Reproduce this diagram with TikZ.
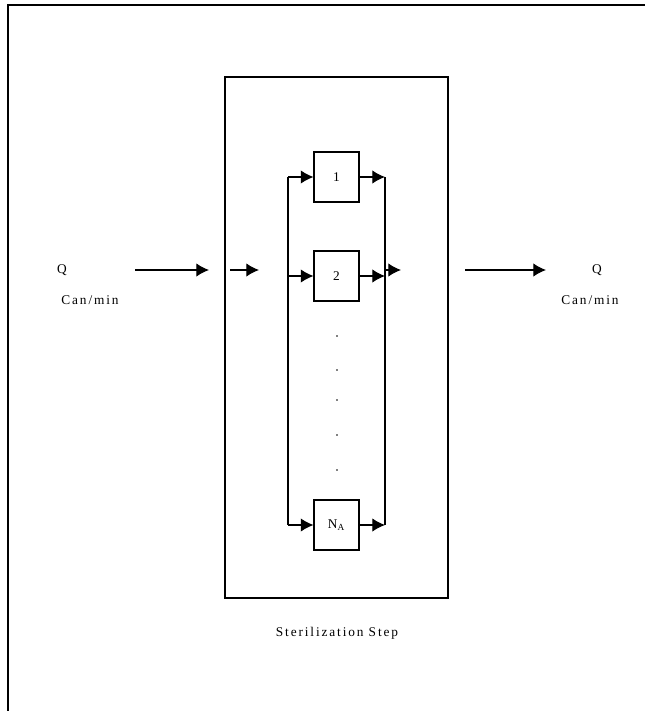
\documentclass[tikz,border=0pt]{standalone}
\usepackage{fontspec}
\setmainfont{Liberation Serif}
\usetikzlibrary{arrows.meta, math}

\tikzset{
  unit/.style={draw, line width=0.8pt, minimum width=33.75pt, minimum height=37.5pt, inner sep=0pt, font=\fontsize{10}{12}\selectfont},
  flow/.style={line width=0.8pt, -{Latex[length=9.5pt,width=10pt]}},
  bus/.style={line width=0.8pt},
  lbl/.style={font=\addfontfeatures{LetterSpace=14}\fontsize{10}{12}\selectfont, inner sep=0pt}
}

\begin{document}
\begin{tikzpicture}[x=0.75pt, y=-0.75pt]
\tikzmath{
\xl=288; \xr=385; \ym=270;
}
\useasboundingbox (0,0) rectangle (645,711);

% frame
\draw[line width=1.5pt] (8,711) -- (8,5) -- (645,5);

% sterilization step
\node[draw, line width=0.9pt, minimum width=167.25pt, minimum height=390.75pt, inner sep=0pt] (step) at (336.5,337.5) {};
\node[lbl] (steplbl) at (337,633) {Sterilization Step};

% parallel units
\node[unit] (u1) at (336.5,177) {1};
\node[unit] (u2) at (336.5,276) {2};
\node[unit] (uN) at (336.5,525) {N\textsubscript{A}};

\foreach \y in {336,370,400,435,470}
  \fill (337,\y) circle (0.6pt);

\coordinate (bl1) at (\xl,177);
\coordinate (bl2) at (\xl,276);
\coordinate (blN) at (\xl,525);
\coordinate (br1) at (\xr,177);
\coordinate (br2) at (\xr,276);
\coordinate (brN) at (\xr,525);

\draw[bus] (bl1) -- (blN);
\draw[bus] (br1) -- (brN);
\draw[flow] (bl1) -- (u1.west);
\draw[flow] (bl2) -- (u2.west);
\draw[flow] (blN) -- (uN.west);
\draw[flow] (u1.east) -- (br1);
\draw[flow] (u2.east) -- (br2);
\draw[flow] (uN.east) -- (brN);

% inside flow
\coordinate (ia) at (230,\ym);
\coordinate (ib) at (259,\ym);
\coordinate (oa) at (\xr,\ym);
\coordinate (ob) at (401,\ym);
\draw[flow] (ia) -- (ib);
\draw[flow] (oa) -- (ob);

% outside flow
\node[lbl] (qin) at (62,\ym) {Q};
\node[lbl] (rin) at (90,300) {Can/min};
\node[lbl] (qout) at (597,\ym) {Q};
\node[lbl] (rout) at (590,300) {Can/min};
\coordinate (ea) at (135,\ym);
\coordinate (eb) at (209,\ym);
\coordinate (fa) at (465,\ym);
\coordinate (fb) at (546,\ym);
\draw[flow] (ea) -- (eb);
\draw[flow] (fa) -- (fb);

\end{tikzpicture}
\end{document}
